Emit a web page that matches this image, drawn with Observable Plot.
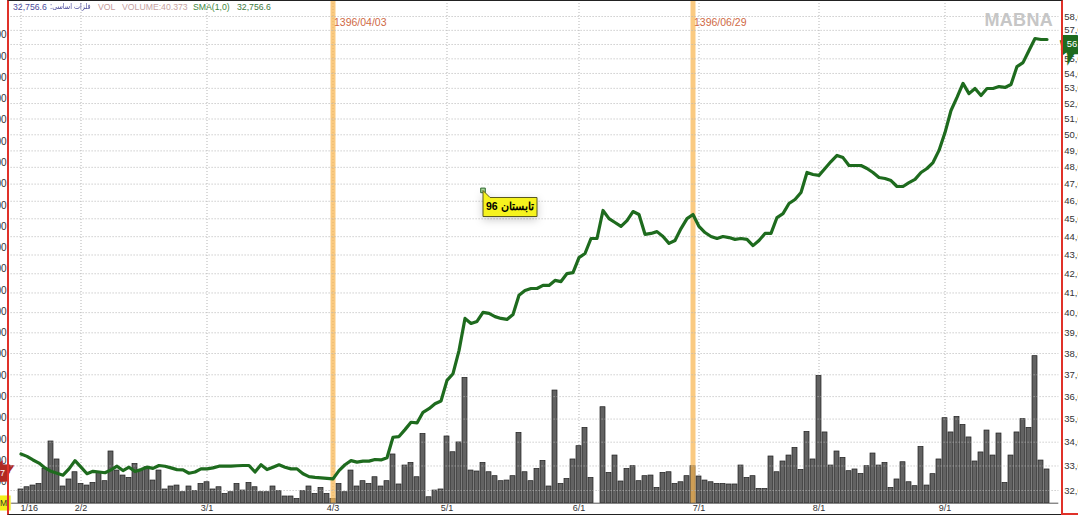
<!DOCTYPE html>
<html><head><meta charset="utf-8">
<script src="https://cdn.jsdelivr.net/npm/d3@7"></script>
<script src="https://cdn.jsdelivr.net/npm/@observablehq/plot@0.6"></script>
<style>
html,body{margin:0;padding:0;background:#fff;overflow:hidden;}
#wrap{position:relative;width:1078px;height:516px;overflow:hidden;font-family:"Liberation Sans",Arial,sans-serif;}
#wrap svg{position:absolute;left:0;top:0;}
.lg{position:absolute;top:1px;font-size:8.7px;white-space:nowrap;line-height:12px;}
#frame{position:absolute;left:7px;top:0;width:1052px;height:513px;border-top:1px solid #222;border-left:2px solid #e03129;border-right:2px solid #e03129;border-bottom:1px solid #222;}
#frame2{position:absolute;left:1061px;top:513px;width:17px;height:0;border-bottom:2px solid #e03129;}
#mabna{position:absolute;right:25px;top:10px;font:bold 18px "Liberation Sans",Arial,sans-serif;color:#c6c6c6;letter-spacing:0.3px;}
</style></head>
<body><div id="wrap"></div>
<script>
// ---- data (price in thousands, volume in millions) ----
const price = [33.50,33.40,33.25,33.12,32.92,32.78,32.70,32.62,32.88,33.22,32.95,32.68,32.78,32.75,32.72,32.84,32.99,32.81,32.95,32.77,
32.85,32.95,32.90,33.02,32.99,32.92,32.85,32.84,32.70,32.75,32.88,32.88,32.92,32.99,32.99,32.99,33.01,33.02,33.02,32.75,
33.05,32.85,32.95,33.05,32.95,32.88,32.88,32.68,32.56,32.53,32.51,32.49,32.47,32.81,33.05,33.22,33.16,33.20,33.20,33.27,
33.25,33.34,34.21,34.24,34.54,34.86,34.83,35.30,35.46,35.68,35.80,36.74,37.05,38.14,39.71,39.46,39.56,40.01,39.96,39.80,
39.71,39.66,39.91,40.88,41.13,41.23,41.23,41.39,41.39,41.65,41.59,42.01,42.06,42.86,43.08,43.90,43.90,45.47,45.01,44.79,
44.57,44.90,45.41,45.24,44.13,44.18,44.28,44.01,43.63,43.79,44.45,45.01,45.24,44.57,44.23,44.01,43.90,44.01,43.95,43.85,
43.90,43.85,43.51,43.79,44.18,44.18,45.07,45.29,45.87,46.10,46.51,47.69,47.57,47.52,47.93,48.35,48.72,48.59,48.11,48.11,
48.11,47.93,47.69,47.39,47.33,47.21,46.86,46.86,47.09,47.28,47.69,47.93,48.29,49.03,50.14,51.55,52.40,53.33,52.65,52.99,
52.53,52.99,52.99,53.12,53.06,53.26,54.47,54.74,55.58,56.42,56.35,56.35];
const volume = [129,150,166,181,322,580,411,157,223,291,181,166,191,285,207,486,307,260,238,369,
307,338,213,307,129,157,166,103,157,113,181,197,129,150,87,103,181,119,191,150,
103,103,157,113,63,63,40,113,157,87,144,87,40.373,181,103,307,157,207,181,244,
157,207,458,176,354,379,244,651,56,119,129,627,479,571,1178,307,298,379,291,254,
207,213,254,661,291,207,322,398,157,1059,181,228,411,536,708,238,0,902,285,448,
204,322,348,207,254,260,144,285,291,181,197,254,348,251,213,197,181,181,176,176,
354,238,254,134,134,439,291,392,448,520,313,670,411,1197,665,354,486,426,301,317,
275,348,467,354,379,144,223,385,197,160,529,166,273,411,799,665,811,736,618,392,
477,683,448,655,191,448,665,790,708,1382,401,317];
const dayIndex = price.map((_, i) => i);
const tickIdx = [0,10,31,52,71,93,113,133,154];
const tickLabels = ["1/16","2/2","3/1","4/3","5/1","6/1","7/1","8/1","9/1"];
const priceTicks = [32,33,34,35,36,37,38,39,40,41,42,43,44,45,46,47,48,49,50,51,52,53,54,55,56,57,58];
const volTicks = [200,400,600,800,1000,1200,1400,1600,1800,2000,2200,2400,2600,2800,3000,3200,3400,3600,3800,4000,4200,4400];
const markIdx = [52,112];
const markLabels = ["1396/04/03","1396/06/29"];
const callout = [{i: 77, price: 46.63, label: "تابستان 96"}];
const legendTitle = "فلزات اساسی:";
const legendValue = "32,756.6";

// ---- layout ----
const W = 1078, H = 516;
const common = {width: W, height: H, marginLeft: 7.6, marginRight: 19.7,
  style: {background: "transparent", overflow: "visible", fontFamily: "'Liberation Sans', Arial, sans-serif"}};
const xScale = {type: "band", domain: dayIndex, padding: 0.25, axis: null};
const last = dayIndex.length - 1;
// the last-price box covers the nearest tick label
const labelTicks = priceTicks.filter(t => Math.abs(t - price[last]) > 0.5);

const vplot = Plot.plot({
  ...common, marginTop: 0, marginBottom: 13.3,
  x: xScale,
  y: {domain: [0, 4725], axis: null},
  marks: [
    Plot.ruleX(tickIdx, {x: d => d, stroke: "#b5b5b5", strokeDasharray: "1,2"}),
    Plot.barY(dayIndex, {x: d => d, y: i => volume[i], fill: "#626262", stroke: "#1e1e1e", strokeWidth: 0.7}),
    Plot.ruleY([0], {stroke: "#555"}),
    Plot.ruleX(markIdx, {x: d => d, stroke: "#f8b650", strokeWidth: 5, strokeOpacity: 0.72}),
    Plot.text(markIdx, {x: d => d, text: (d, i) => markLabels[i], frameAnchor: "top", dy: 18, dx: 1,
      textAnchor: "start", fill: "#cf6a45", fontSize: 10.5}),
    Plot.axisY({anchor: "left", label: null, ticks: volTicks, tickSize: 0, tickPadding: 1.5, tickFormat: d3.format(","),
      fontSize: 10, fill: "#333"}),
    Plot.text(tickIdx.slice(0, 1), {x: d => d, text: (d, i) => tickLabels[i], frameAnchor: "bottom", dy: 8,
      textAnchor: "start", dx: -0.5, fontSize: 9, fill: "#333"}),
    Plot.text(tickIdx.slice(1), {x: d => d, text: (d, i) => tickLabels[i + 1], frameAnchor: "bottom", dy: 8,
      fontSize: 9, fill: "#333"}),
    Plot.text([volume[last]], {y: d => d, frameAnchor: "left", text: d => d3.format(",")(d), textAnchor: "end",
      dx: -3, dy: 4, fill: "#fff", stroke: "#b02a22", strokeWidth: 11, paintOrder: "stroke", strokeLinejoin: "miter", fontSize: 9}),
    Plot.text([0], {y: d => d, frameAnchor: "left", text: () => "M", textAnchor: "end", dx: -1, dy: 0,
      fill: "#333", stroke: "#f2ef1a", strokeWidth: 9, paintOrder: "stroke", strokeLinejoin: "miter", fontSize: 8.5})
  ]
});

const pplot = Plot.plot({
  ...common, marginTop: 16, marginBottom: 26,
  x: xScale,
  y: {type: "log", domain: [32, 58], axis: null},
  marks: [
    Plot.ruleY(priceTicks, {y: d => d, stroke: "#b5b5b5", strokeDasharray: "1,2"}),
    Plot.line(dayIndex, {x: d => d, y: i => price[i], stroke: "#1e6b1e", strokeWidth: 3.2, strokeLinejoin: "round"}),
    Plot.axisY({anchor: "right", label: null, ticks: labelTicks, tickSize: 0, tickPadding: 5.5,
      tickFormat: d => d3.format(",")(d * 1000), fontSize: 9.5, fill: "#333"}),
    Plot.text([price[last]], {y: d => d, frameAnchor: "right", text: d => d3.format(",")(Math.round(d * 1000)),
      textAnchor: "start", dx: 8, dy: 4, fill: "#fff", stroke: "#1e6b1e", strokeWidth: 12, paintOrder: "stroke",
      strokeLinejoin: "miter", fontSize: 9.5}),
    Plot.dot(callout, {x: "i", y: "price", symbol: "square", r: 2.6, fill: "#a9d89c", stroke: "#2f6a2f", strokeWidth: 1}),
    Plot.tip(callout, {x: "i", y: "price", title: "label", anchor: "top-left", pointerSize: 7, textPadding: 3,
      fill: "#f6f31e", stroke: "#5a5a1e", fontSize: 10.5, fontWeight: "bold"})
  ]
});

const wrap = document.getElementById("wrap");
wrap.appendChild(vplot);
wrap.appendChild(pplot);

const fr = document.createElement("div"); fr.id = "frame"; wrap.appendChild(fr);
const fr2 = document.createElement("div"); fr2.id = "frame2"; wrap.appendChild(fr2);
const mb = document.createElement("div"); mb.id = "mabna"; mb.textContent = "MABNA"; wrap.appendChild(mb);

const legendItems = [
  {text: legendValue, color: "#4b4b9c", left: 13},
  {text: legendTitle, color: "#4b4b9c", left: 50, size: 8, font: "'DejaVu Sans', sans-serif", dir: "rtl", squeeze: 0.8},
  {text: "VOL", color: "#c49a9a", left: 98},
  {text: "VOLUME:" + d3.format(".3f")(volume[52]), color: "#c6a2a2", left: 122},
  {text: "SMA(1,0)", color: "#3d873d", left: 193},
  {text: legendValue, color: "#3d7a3d", left: 237}
];
for (const it of legendItems) {
  const s = document.createElement("div");
  s.className = "lg"; s.style.left = it.left + "px"; s.style.color = it.color; s.textContent = it.text;
  if (it.size) s.style.fontSize = it.size + "px";
  if (it.font) s.style.fontFamily = it.font;
  if (it.dir) s.dir = it.dir;
  if (it.squeeze) { s.style.transform = `scaleX(${it.squeeze})`; s.style.transformOrigin = "left center"; }
  wrap.appendChild(s);
}
</script>
</body></html>
